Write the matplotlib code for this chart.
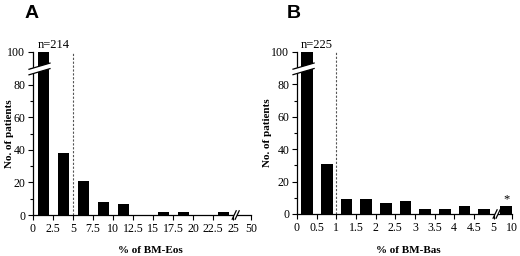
import matplotlib
matplotlib.use("Agg")
import matplotlib.pyplot as plt
from matplotlib.ticker import MultipleLocator
from matplotlib.patches import Polygon
import numpy as np

# ---------------- data ----------------
eos_ticks = ['0', '2.5', '5', '7.5', '10', '12.5', '15', '17.5', '20', '22.5', '25', '50']
eos_bin_lo = [0, 2.5, 5, 7.5, 10, 12.5, 15, 17.5, 20, 22.5]
eos_counts = [134, 38, 21, 8, 7, 0, 2, 2, 0, 2]
eos_n = 214

bas_ticks = ['0', '0.5', '1', '1.5', '2', '2.5', '3', '3.5', '4', '4.5', '5', '10']
bas_bin_lo = [0, 0.5, 1, 1.5, 2, 2.5, 3, 3.5, 4, 4.5]
bas_counts = [142, 31, 9, 9, 7, 8, 3, 3, 5, 3]
bas_over_count = 5          # 5-10 % bin (after axis break), marked with *
bas_n = 225

yticks = [0, 20, 40, 60, 80, 100]

serif = ['Liberation Serif', 'DejaVu Serif']
plt.rcParams['font.family'] = serif

fig = plt.figure(figsize=(5.2, 2.56), dpi=100)

def setup(ax, ticks, labels, end_pos, xlabel, n, dash_x, ppu_x, break_x, ylab_x, xlab_xy):
    ax.set_ylim(0, 100)
    ax.set_xlim(0, end_pos)
    for s in ['top', 'right']:
        ax.spines[s].set_visible(False)
    for s in ['left', 'bottom']:
        ax.spines[s].set_linewidth(0.9)
    ax.set_yticks(yticks)
    ax.yaxis.set_minor_locator(MultipleLocator(10))
    ax.set_xticks(ticks)
    ax.set_xticklabels(labels)
    ax.tick_params(axis='both', which='major', direction='out', length=3.5, width=0.8,
                   labelsize=8.6, pad=2)
    ax.tick_params(axis='y', which='minor', direction='out', length=2, width=0.8)
    ax.set_ylabel('No. of patients', fontsize=8, fontweight='bold')
    ax.yaxis.set_label_coords(ylab_x, 0.5)
    ax.set_xlabel(xlabel, fontsize=8, fontweight='bold')
    ax.xaxis.set_label_coords(*xlab_xy)
    ax.axvline(dash_x, ymin=0, ymax=1.0, color='#555555', lw=0.8, ls=(0, (2, 1.5)))
    # y-axis break (white slanted band across axis and first bar)
    x0 = -4 / ppu_x
    x1 = ax.patches[0].get_x() + ax.patches[0].get_width() + 1.0 / ppu_x
    yb0, yb1 = 86.0, 89.8
    th = 3.4
    poly = Polygon([[x0, yb0], [x1, yb1], [x1, yb1 + th], [x0, yb0 + th]], closed=True,
                   facecolor='white', edgecolor='none', clip_on=False, zorder=5)
    ax.add_patch(poly)
    ax.plot([x0, x1], [yb0, yb1], color='black', lw=0.9, clip_on=False, zorder=6)
    ax.plot([x0, x1], [yb0 + th, yb1 + th], color='black', lw=0.9, clip_on=False, zorder=6)
    # x-axis break marks
    dx = 2.0 / ppu_x
    dy = 2.6
    gap = 3.0 / ppu_x
    ax.add_patch(Polygon([[break_x, -1], [break_x + gap, -1], [break_x + gap, 1], [break_x, 1]],
                         closed=True, facecolor='white', edgecolor='none', clip_on=False, zorder=5))
    for bx in [break_x, break_x + gap]:
        ax.plot([bx - dx, bx + dx], [-dy, dy], color='black', lw=0.9, clip_on=False, zorder=6)
    # n label
    ax.text(ax.patches[0].get_x() - 0.5 / ppu_x, 100.5, 'n=%d' % n, fontsize=9,
            ha='left', va='bottom')

# ---------------- Panel A ----------------
axA = fig.add_axes([33 / 520, 1 - 215 / 256, (251 - 33) / 520, (215 - 52) / 256])
endA = 27.25
posA = [lo + 1.3 for lo in eos_bin_lo]
axA.bar(posA, np.minimum(eos_counts, 100), width=1.4, color='black', zorder=3)
ticksA = [i * 2.5 for i in range(11)] + [endA]
setup(axA, ticksA, eos_ticks, endA, '% of BM-Eos', eos_n, 5.0, 8.0, 25.15,
      -0.085, (0.537, -0.19))

# ---------------- Panel B ----------------
axB = fig.add_axes([297 / 520, 1 - 214 / 256, (512 - 297) / 520, (214 - 52) / 256])
endB = 5.47
posB = [lo + 0.26 for lo in bas_bin_lo]
axB.bar(posB, np.minimum(bas_counts, 100), width=0.3, color='black', zorder=3)
over_pos = endB - 0.15
axB.bar([over_pos], [bas_over_count], width=0.3, color='black', zorder=3)
axB.text(over_pos, bas_over_count + 0.5, '*', fontsize=9, ha='center', va='bottom')
ticksB = [i * 0.5 for i in range(11)] + [endB]
setup(axB, ticksB, bas_ticks, endB, '% of BM-Bas', bas_n, 1.0, 39.3, 5.04,
      -0.116, (0.516, -0.197))

# panel letters
fig.text(25 / 520, 1 - 14 / 256, 'A', fontsize=14, fontweight='bold',
         family=['Liberation Sans', 'DejaVu Sans'], ha='left', va='center')
fig.text(287 / 520, 1 - 14 / 256, 'B', fontsize=14, fontweight='bold',
         family=['Liberation Sans', 'DejaVu Sans'], ha='left', va='center')

fig.savefig('out.png', dpi=100)
